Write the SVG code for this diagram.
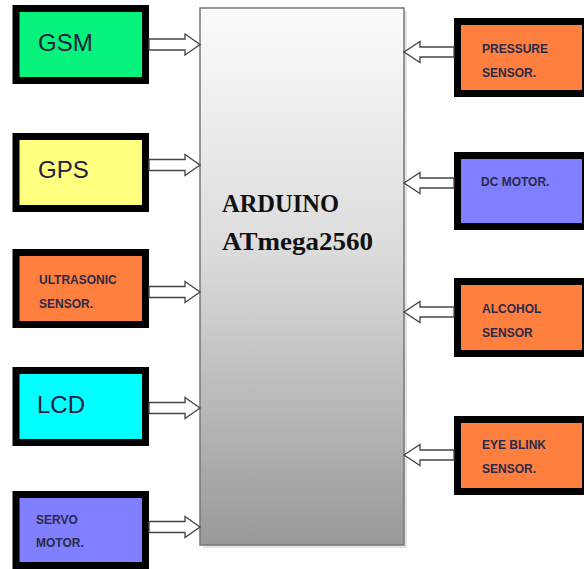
<svg xmlns="http://www.w3.org/2000/svg" width="584" height="569" viewBox="0 0 584 569">
  <defs>
    <linearGradient id="mcuGrad" x1="0" y1="0" x2="0" y2="1">
      <stop offset="0" stop-color="#fbfbfb"/>
      <stop offset="0.45" stop-color="#dcdcdc"/>
      <stop offset="1" stop-color="#999999"/>
    </linearGradient>
  </defs>
  <style>
    .box { stroke: #000; stroke-width: 7; }
    .big { font-family: "Liberation Sans", Arial, sans-serif; font-size: 24px; fill: #202040; }
    .small { font-family: "Liberation Sans", Arial, sans-serif; font-size: 12px; font-weight: bold; fill: #2a2a4a; }
    .mcu { font-family: "Liberation Serif", "Times New Roman", serif; font-size: 25px; font-weight: bold; fill: #111; }
    .arrow { fill: #fff; stroke: #444; stroke-width: 1.3; stroke-linejoin: miter; }
  </style>
  <rect width="584" height="569" fill="#fff"/>

  <g id="arduino">
    <rect x="203" y="11" width="204" height="537" fill="#d0d0d0" opacity="0.6"/>
    <rect x="200" y="8" width="204" height="537" fill="url(#mcuGrad)" stroke="#777" stroke-width="1.5"/>
    <text class="mcu" x="222" y="212" textLength="117" lengthAdjust="spacingAndGlyphs">ARDUINO</text>
    <text class="mcu" x="222" y="250" textLength="151" lengthAdjust="spacingAndGlyphs">ATmega2560</text>
  </g>

  <g id="gsm">
    <rect class="box" x="16" y="8.5" width="129.5" height="72" fill="#05f27c"/>
    <text class="big" x="38" y="51">GSM</text>
  </g>
  <g id="gps">
    <rect class="box" x="16" y="136.5" width="129.5" height="72" fill="#ffff80"/>
    <text class="big" x="38" y="178">GPS</text>
  </g>
  <g id="ultrasonic">
    <rect class="box" x="16" y="252.5" width="129.5" height="72" fill="#ff7f3f"/>
    <text class="small" x="39" y="284">ULTRASONIC</text>
    <text class="small" x="39" y="308">SENSOR.</text>
  </g>
  <g id="lcd">
    <rect class="box" x="16" y="370.5" width="129.5" height="72" fill="#00ffff"/>
    <text class="big" x="37" y="413">LCD</text>
  </g>
  <g id="servo">
    <rect class="box" x="16" y="494.5" width="129.5" height="71" fill="#7f7fff"/>
    <text class="small" x="36" y="524">SERVO</text>
    <text class="small" x="36" y="547">MOTOR.</text>
  </g>

  <g id="pressure">
    <rect class="box" x="457.5" y="21.5" width="128" height="72" fill="#ff7f3f"/>
    <text class="small" x="482" y="53">PRESSURE</text>
    <text class="small" x="482" y="77">SENSOR.</text>
  </g>
  <g id="dcmotor">
    <rect class="box" x="457.5" y="155.5" width="128" height="71" fill="#7f7fff"/>
    <text class="small" x="481" y="186">DC MOTOR.</text>
  </g>
  <g id="alcohol">
    <rect class="box" x="457.5" y="281.5" width="128" height="72" fill="#ff7f3f"/>
    <text class="small" x="482" y="313">ALCOHOL</text>
    <text class="small" x="482" y="337">SENSOR</text>
  </g>
  <g id="eyeblink">
    <rect class="box" x="457.5" y="419.5" width="128" height="72" fill="#ff7f3f"/>
    <text class="small" x="482" y="449">EYE BLINK</text>
    <text class="small" x="482" y="473">SENSOR.</text>
  </g>

  <g id="connectors">
    <polygon class="arrow" points="149,39 185,39 185,34 200,44.5 185,55 185,50 149,50"/>
    <polygon class="arrow" points="149,159.5 185,159.5 185,154.5 200,165 185,175.5 185,170.5 149,170.5"/>
    <polygon class="arrow" points="149,286.5 185,286.5 185,281.5 200,292 185,302.5 185,297.5 149,297.5"/>
    <polygon class="arrow" points="149,402.5 185,402.5 185,397.5 200,408 185,418.5 185,413.5 149,413.5"/>
    <polygon class="arrow" points="149,521.5 185,521.5 185,516.5 200,527 185,537.5 185,532.5 149,532.5"/>
    <polygon class="arrow" points="454,47 420,47 420,41.5 404,52 420,62.5 420,57 454,57"/>
    <polygon class="arrow" points="454,178 420,178 420,172.5 404,183 420,193.5 420,188 454,188"/>
    <polygon class="arrow" points="454,307 420,307 420,301.5 404,312 420,322.5 420,317 454,317"/>
    <polygon class="arrow" points="454,450 420,450 420,444.5 404,455 420,465.5 420,460 454,460"/>
  </g>
</svg>
